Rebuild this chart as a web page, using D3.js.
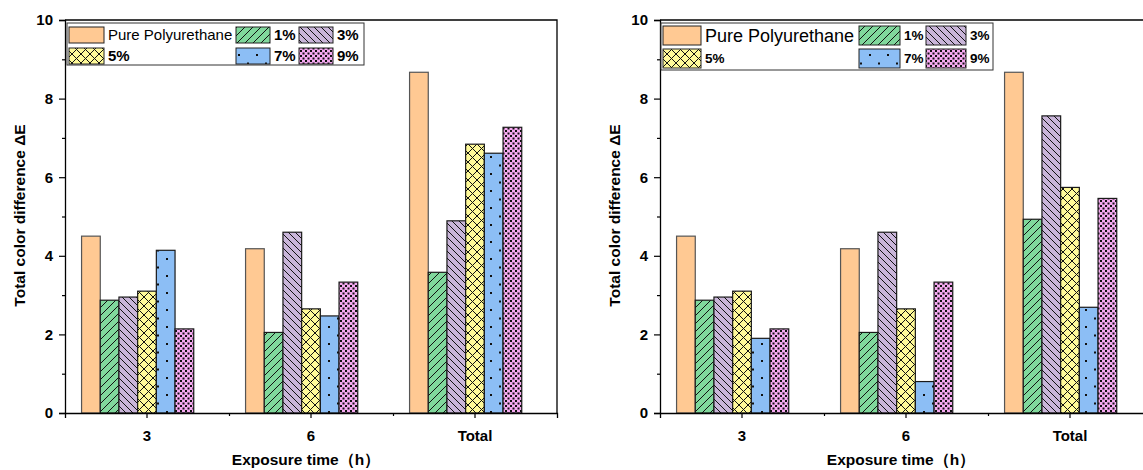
<!DOCTYPE html>
<html>
<head>
<meta charset="utf-8">
<script src="https://cdn.jsdelivr.net/npm/d3@7/dist/d3.min.js"></script>
<style>
  html, body { margin: 0; padding: 0; background: #fff; }
  svg { display: block; font-family: "Liberation Sans", Arial, sans-serif; }
</style>
</head>
<body>
<svg id="chart" width="1143" height="470"></svg>
<script>
// Exposure-time categories and series
const categories = ["3", "6", "Total"];
const seriesNames = ["Pure Polyurethane", "1%", "3%", "5%", "7%", "9%"];
const yTicks = [0, 2, 4, 6, 8, 10];
const yMinorTicks = [1, 3, 5, 7, 9];

// Left panel: ΔE per series, one value per category
const leftPure = [4.50, 4.18, 8.67];
const left1 = [2.87, 2.05, 3.58];
const left3 = [2.95, 4.60, 4.89];
const left5 = [3.10, 2.65, 6.84];
const left7 = [4.14, 2.47, 6.61];
const left9 = [2.14, 3.33, 7.27];

// Right panel
const rightPure = [4.50, 4.18, 8.67];
const right1 = [2.87, 2.05, 4.93];
const right3 = [2.95, 4.60, 7.56];
const right5 = [3.10, 2.65, 5.74];
const right7 = [1.90, 0.80, 2.69];
const right9 = [2.14, 3.33, 5.46];

const fills = ["#FFC993", "#80D89C", "#C9B5D9", "#FFFA99", "#8CBEF5", "#F6A9F1"];
const patternIds = [null, "pGreen", "pPurple", "pYellow", "pBlue", "pPink"];

const svg = d3.select("#chart");
const defs = svg.append("defs");

function pattern(id, w, h, bg, draw) {
  const p = defs.append("pattern").attr("id", id)
    .attr("patternUnits", "userSpaceOnUse").attr("width", w).attr("height", h);
  p.append("rect").attr("width", w).attr("height", h).attr("fill", bg);
  draw(p);
}
// forward diagonal hatching
pattern("pGreen", 8, 8, fills[1], p => p.append("path")
  .attr("d", "M0,8L8,0M-2,2L2,-2M6,10L10,6").attr("stroke", "#111").attr("stroke-width", 1));
// backward diagonal hatching
pattern("pPurple", 7, 7, fills[2], p => p.append("path")
  .attr("d", "M0,0L7,7M-2,5L2,9M5,-2L9,2").attr("stroke", "#111").attr("stroke-width", 1));
// diagonal cross-hatching
pattern("pYellow", 9, 9, fills[3], p => p.append("path")
  .attr("d", "M0,0L9,9M0,9L9,0M-2,7L2,11M7,-2L11,2M-2,2L2,-2M7,11L11,7").attr("stroke", "#111").attr("stroke-width", 1));
// sparse staggered dots
pattern("pBlue", 18, 17, fills[4], p => {
  p.append("rect").attr("x", 4).attr("y", 3).attr("width", 2).attr("height", 2).attr("fill", "#111");
  p.append("rect").attr("x", 13).attr("y", 11.5).attr("width", 2).attr("height", 2).attr("fill", "#111");
});
// dense checker dots
pattern("pPink", 5, 5, fills[5], p => {
  p.append("rect").attr("x", 0).attr("y", 0).attr("width", 2).attr("height", 2).attr("fill", "#111");
  p.append("rect").attr("x", 2.5).attr("y", 2.5).attr("width", 2).attr("height", 2).attr("fill", "#111");
});

function fillOf(i) { return patternIds[i] ? `url(#${patternIds[i]})` : fills[i]; }

const plotLeft = 65, plotRight = 557, plotTop = 20, plotBottom = 413;

function drawPanel(offsetX, seriesValues, legend) {
  const g = svg.append("g").attr("transform", `translate(${offsetX},0)`);
  const x = d3.scaleBand().domain(categories).range([plotLeft, plotRight]);
  const y = d3.scaleLinear().domain([0, 10]).range([plotBottom, plotTop]);
  const bw = x.step() * 0.114;
  // bars are laid out so the category tick sits under the 4th bar
  const xs = d3.scaleBand().domain(seriesNames).range([-3.5 * bw, 2.5 * bw]);

  const rows = [];
  seriesNames.forEach((s, i) => categories.forEach((c, j) => rows.push({ s, i, c, v: seriesValues[i][j] })));

  g.selectAll("rect.bar").data(rows).join("rect").attr("class", "bar")
    .attr("x", d => x(d.c) + x.bandwidth() / 2 + xs(d.s))
    .attr("y", d => y(d.v))
    .attr("width", xs.bandwidth())
    .attr("height", d => y(0) - y(d.v))
    .attr("fill", d => fillOf(d.i))
    .attr("stroke", d => d.i === 0 ? "#555" : "#1a1a1a")
    .attr("stroke-width", 1.2);

  // frame top/right
  g.append("path").attr("d", `M${plotLeft},${plotTop}H${plotRight}V${plotBottom}`)
    .attr("fill", "none").attr("stroke", "#000").attr("stroke-width", 1.3);

  // y axis
  const yAx = g.append("g").attr("transform", `translate(${plotLeft},0)`)
    .call(d3.axisLeft(y).tickValues(yTicks).tickSize(6).tickPadding(6).tickFormat(d3.format("d")));
  g.append("g").attr("transform", `translate(${plotLeft},0)`)
    .call(d3.axisLeft(y).tickValues(yMinorTicks).tickSize(3).tickFormat(""))
    .select(".domain").remove();

  // x axis
  const xAx = g.append("g").attr("transform", `translate(0,${plotBottom})`)
    .call(d3.axisBottom(x).tickSize(5).tickPadding(12));
  g.append("g").attr("transform", `translate(0,${plotBottom})`)
    .call(d3.axisBottom(d3.scaleLinear().domain([0, 3]).range([plotLeft, plotRight]))
      .tickValues([1, 2]).tickSize(3).tickFormat(""))
    .select(".domain").remove();

  [yAx, xAx].forEach(a => {
    a.select(".domain").attr("stroke-width", 1.3);
    a.selectAll("text").attr("font-size", 15).attr("font-weight", "bold").attr("fill", "#000");
  });
  g.selectAll(".tick line").attr("stroke-width", 1.2);

  // axis titles
  g.append("text").attr("x", (plotLeft + plotRight) / 2 - 5).attr("y", 465)
    .attr("text-anchor", "middle").attr("font-size", 15.5).attr("font-weight", "bold")
    .text("Exposure time（h）");
  g.append("text").attr("transform", `translate(25,${(plotTop + plotBottom) / 2 - 1}) rotate(-90)`)
    .attr("text-anchor", "middle").attr("font-size", 15.5).attr("font-weight", "bold")
    .text("Total color difference ΔE");

  // legend
  const L = legend;
  g.append("rect").attr("x", L.x).attr("y", L.y).attr("width", L.w).attr("height", L.h)
    .attr("fill", "#fff").attr("stroke", "#333").attr("stroke-width", 1);
  seriesNames.forEach((s, i) => {
    const col = i === 0 || i === 3 ? 0 : (i === 1 || i === 4 ? 1 : 2);
    const row = i < 3 ? 0 : 1;
    const sx = L.cols[col], sy = L.rows[row];
    g.append("rect").attr("x", sx).attr("y", sy).attr("width", L.sw[col]).attr("height", L.sh)
      .attr("fill", fillOf(i)).attr("stroke", "#222").attr("stroke-width", 1);
    const t = g.append("text").attr("x", sx + L.sw[col] + 4).attr("y", sy + L.sh / 2)
      .attr("dy", "0.36em").text(s);
    if (i === 0) t.attr("font-size", L.pureSize);
    else t.attr("font-size", L.pctSize).attr("font-weight", "bold");
  });
}

drawPanel(0, [leftPure, left1, left3, left5, left7, left9], {
  x: 67, y: 23, w: 297, h: 42, rows: [27, 48], sh: 16,
  cols: [69, 236, 299], sw: [35, 34, 34], pureSize: 15, pctSize: 15
});
drawPanel(595, [rightPure, right1, right3, right5, right7, right9], {
  x: 66, y: 23, w: 332, h: 47, rows: [26, 49], sh: 19,
  cols: [68, 264, 331], sw: [38, 41, 40], pureSize: 18, pctSize: 13.5
});
</script>
</body>
</html>
